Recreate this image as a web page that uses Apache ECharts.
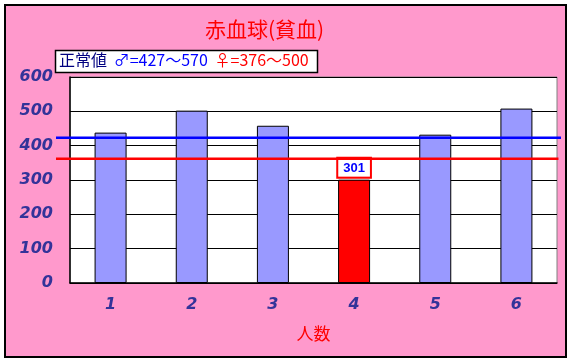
<!DOCTYPE html>
<html><head><meta charset="utf-8">
<script src="https://cdn.jsdelivr.net/npm/echarts@6/dist/echarts.min.js"></script>
<style>html,body{margin:0;padding:0;background:#fff}#c{width:573px;height:364px}</style>
</head><body><div id="c"></div>
<script>
const categories = ['1','2','3','4','5','6'];
const values = [438, 502, 458, 301, 432, 508];
const highlightIndex = 3;
const yTicks = [0, 600, 100];
const maleLine = 423;
const femaleLine = 362;
const lineSpanBlue = [0, 1];
const lineSpanRed = [0, 0.995];

const chart = echarts.init(document.getElementById('c'));
const labelFont = {fontFamily: 'DejaVu Sans', fontStyle: 'italic', fontWeight: 'bold', fontSize: 16, color: '#333399'};
chart.setOption({
  backgroundColor: '#ffffff',
  animation: false,
  graphic: [
    {type: 'rect', z: -10, shape: {x: 5, y: 5, width: 561, height: 352}, style: {fill: '#FF99CC', stroke: '#000', lineWidth: 2}},
    {type: 'rect', z: 10, shape: {x: 55.5, y: 50.5, width: 262, height: 22}, style: {fill: '#fff', stroke: '#000', lineWidth: 1.5}},
    {type: 'text', z: 11, left: 59, top: 52, style: {
      rich: {
        a: {fill: '#000080', fontSize: 16, fontFamily: 'Noto Sans CJK JP'},
        b: {fill: '#0000FF', fontSize: 16, fontFamily: 'Noto Sans CJK JP'},
        c: {fill: '#FF0000', fontSize: 16, fontFamily: 'Noto Sans CJK JP'}
      },
      text: '{a|正常値}  {b|♂=427～570}  {c|♀=376～500}'
    }}
  ],
  title: {
    text: '赤血球(貧血)', left: 200, top: 14,
    textStyle: {color: '#FF0000', fontSize: 21, fontWeight: 'normal', fontFamily: 'Noto Sans CJK JP'}
  },
  grid: [
    {left: 70, top: 77, right: 16, bottom: 81, show: true, backgroundColor: '#fff', borderColor: '#808080', borderWidth: 1},
    {left: 56, top: 77, right: 12, bottom: 81, show: false}
  ],
  xAxis: [{
    type: 'category', data: categories, boundaryGap: true, gridIndex: 0,
    axisLine: {lineStyle: {color: '#000', width: 1.5}},
    axisTick: {inside: true, length: 5, lineStyle: {color: '#000'}},
    axisLabel: Object.assign({margin: 14}, labelFont),
    name: '人数', nameLocation: 'middle', nameGap: 42,
    nameTextStyle: {color: '#FF0000', fontSize: 17, fontFamily: 'Noto Sans CJK JP'}
  }, {
    type: 'value', gridIndex: 1, min: 0, max: 1, show: false
  }],
  yAxis: [{
    type: 'value', gridIndex: 0, min: yTicks[0], max: yTicks[1], interval: yTicks[2],
    axisLine: {show: true, lineStyle: {color: '#000', width: 1.5}},
    axisTick: {show: false},
    splitLine: {lineStyle: {color: '#000', width: 1.2}},
    axisLabel: Object.assign({margin: 17}, labelFont)
  }, {
    type: 'value', gridIndex: 1, min: yTicks[0], max: yTicks[1], show: false
  }],
  series: [{
    type: 'bar', barWidth: 32,
    data: values.map((v, i) => i === highlightIndex ? {
      value: v,
      itemStyle: {color: '#FF0000'},
      label: {show: true, position: 'top', distance: 3, color: '#0000FF', fontWeight: 'bold', fontSize: 13,
        fontFamily: 'Liberation Sans, Arial', backgroundColor: '#fff', borderColor: '#FF0000', borderWidth: 2, padding: [3, 5, 2, 5]}
    } : v),
    itemStyle: {color: '#9999FF', borderColor: '#000', borderWidth: 1}
  }, {
    type: 'line', xAxisIndex: 1, yAxisIndex: 1, clip: false, symbol: 'none', z: 5,
    data: [[lineSpanBlue[0], maleLine], [lineSpanBlue[1], maleLine]],
    lineStyle: {color: '#0000FF', width: 2.5}
  }, {
    type: 'line', xAxisIndex: 1, yAxisIndex: 1, clip: false, symbol: 'none', z: 5,
    data: [[lineSpanRed[0], femaleLine], [lineSpanRed[1], femaleLine]],
    lineStyle: {color: '#FF0000', width: 2.5}
  }]
});
</script></body></html>
